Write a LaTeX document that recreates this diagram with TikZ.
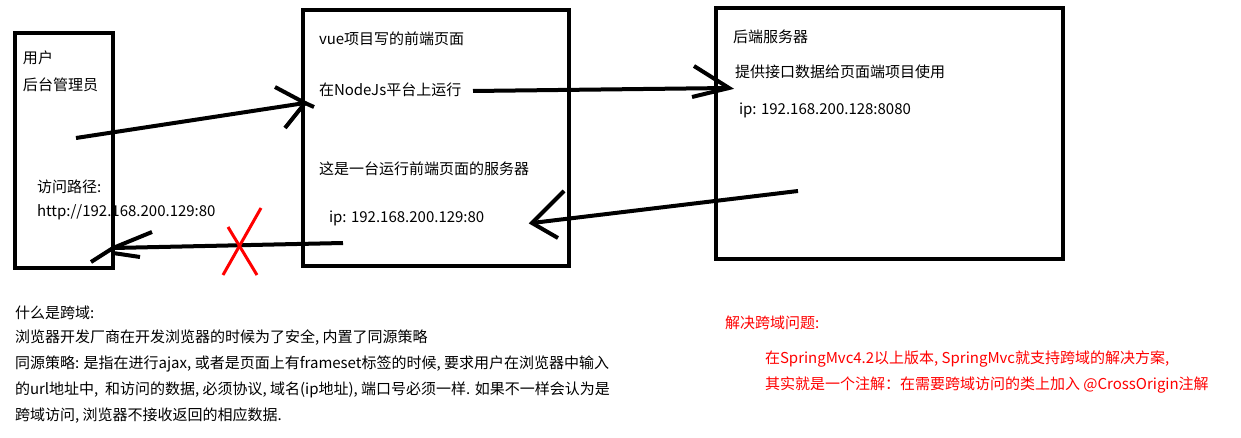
\documentclass[tikz,border=0pt]{standalone}
\usepackage{fontspec}
\setmainfont{Noto Sans CJK SC}
\begin{document}
\begin{tikzpicture}[x=1pt, y=-1pt, line width=4pt,
    kasten/.style={draw=black, line width=4pt, shape=rectangle, inner sep=0pt},
    txt/.style={anchor=west, inner sep=0pt, font=\fontsize{15}{18}\selectfont},
    rottxt/.style={txt, text=red},
    kreuz/.style={draw=red, line width=3pt}
]
\useasboundingbox (0,0) rectangle (1241,438);
% --- Kaesten ---
\node[kasten, minimum width=98, minimum height=235] (nutzer) at (64,150.5) {};
\node[kasten, minimum width=266, minimum height=256] (vorne) at (436,138) {};
\node[kasten, minimum width=347, minimum height=251] (hinten) at (889.5,133.5) {};
% --- Texte in den Kaesten ---
\node[txt] (n1) at (21,58) {用户};
\node[txt] (n2) at (21,85) {后台管理员};
\node[txt] (n3) at (35,187) {访问路径:};
\node[txt] (n4) at (35,212) {http://192.168.200.129:80};
\node[txt] (v1) at (317,39) {vue项目写的前端页面};
\node[txt] (v2) at (317,90) {在NodeJs平台上运行};
\node[txt] (v3) at (317,169) {这是一台运行前端页面的服务器};
\node[txt] (v4) at (327,218) {ip: 192.168.200.129:80};
\node[txt] (h1) at (731,37) {后端服务器};
\node[txt] (h2) at (733,72) {提供接口数据给页面端项目使用};
\node[txt] (h3) at (737,110) {ip: 192.168.200.128:8080};
% --- Pfeil: Nutzer -> vorne ---
\coordinate (a1s) at (76,138);
\coordinate (a1t) at (305,103);
\draw (a1s) -- (a1t);
\draw (275,87) -- (a1t) -- (285,128);   % Spitze
\draw (a1t) -- (314,107);
% --- Pfeil: vorne -> hinten ---
\coordinate (a2s) at (473,91);
\coordinate (a2t) at (729,88);
\draw (a2s) -- (a2t);
\draw (694,66) -- (a2t) -- (692,97);    % Spitze
% --- Pfeil: hinten -> vorne ---
\coordinate (a3s) at (798,191);
\coordinate (a3t) at (532,223);
\draw (a3s) -- (a3t);
\draw (564,191) -- (a3t) -- (558,238);  % Spitze
% --- Pfeil: vorne -> Nutzer (blockiert) ---
\coordinate (a4s) at (343,243);
\coordinate (a4t) at (113,248);
\draw (a4s) -- (a4t);
\draw (152,232) -- (a4t) -- (91,262);   % Spitze
\draw (113,253) -- (140,257);
% --- rotes Kreuz ---
\draw[kreuz] (228,227) -- (257,275);
\draw[kreuz] (261,208) -- (223,275);
% --- Erklaerung unten links ---
\node[txt] (e1) at (13,313) {什么是跨域:};
\node[txt] (e2) at (13,338) {浏览器开发厂商在开发浏览器的时候为了安全, 内置了同源策略};
\node[txt] (e3) at (13,364) {同源策略: 是指在进行ajax, 或者是页面上有frameset标签的时候, 要求用户在浏览器中输入};
\node[txt] (e4) at (13,390) {的url地址中,\ \ 和访问的数据, 必须协议, 域名(ip地址), 端口号必须一样. 如果不一样会认为是};
\node[txt] (e5) at (13,416) {跨域访问, 浏览器不接收返回的相应数据.};
% --- Loesung unten rechts ---
\node[rottxt] (l1) at (723,323) {解决跨域问题:};
\node[rottxt] (l2) at (763,359) {在SpringMvc4.2以上版本, SpringMvc就支持跨域的解决方案,};
\node[rottxt] (l3) at (763,385) {其实就是一个注解：在需要跨域访问的类上加入 @CrossOrigin注解};
\end{tikzpicture}
\end{document}
